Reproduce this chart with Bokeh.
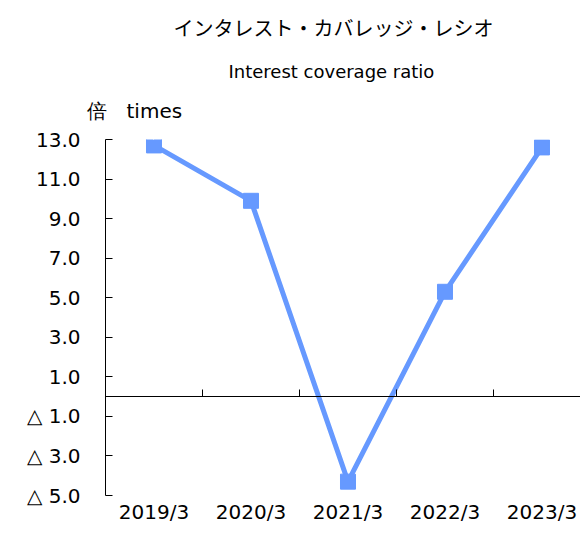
from bokeh.plotting import figure
from bokeh.models import (Range1d, FixedTicker, LinearAxis, Title,
                          CustomLabelingPolicy)
from bokeh.embed import file_html
from bokeh.resources import INLINE

# ---- data ----
categories = ["2019/3", "2020/3", "2021/3", "2022/3", "2023/3"]
ratio = [12.7, 9.9, -4.3, 5.3, 12.6]
ytick_values = [13, 11, 9, 7, 5, 3, 1, -1, -3, -5]
ytick_labels = ["13.0", "11.0", "9.0", "7.0", "5.0", "3.0", "1.0",
                "△ 1.0", "△ 3.0", "△ 5.0"]
title_ja = "インタレスト・カバレッジ・レシオ"
title_en = "Interest coverage ratio"
unit_label = "倍　times"

xs = list(range(len(categories)))
boundaries = [i + 0.5 for i in xs[:-1]]

LINE = "#6699ff"
FONT = "DejaVu Sans"

p = figure(width=580, height=526, output_backend="svg", toolbar_location=None,
           x_range=Range1d(-0.5, len(categories) - 0.603),
           y_range=Range1d(min(ytick_values), max(ytick_values)),
           min_border_left=105, min_border_right=0, min_border_top=139,
           min_border_bottom=29, title=None)
p.outline_line_color = None
p.xgrid.visible = False
p.ygrid.visible = False
p.background_fill_color = "white"
p.border_fill_color = "white"

# category label axis (bottom)
xa = p.xaxis[0]
xa.ticker = FixedTicker(ticks=xs)
xa.major_label_overrides = {x: c for x, c in zip(xs, categories)}
xa.axis_line_color = None
xa.major_tick_line_color = None
xa.minor_tick_line_color = None
xa.major_tick_in = 0
xa.major_tick_out = 0
xa.major_label_standoff = 4
xa.major_label_text_font = FONT
xa.major_label_text_font_size = "20px"
xa.major_label_text_color = "black"

# y axis
ya = p.yaxis[0]
ya.ticker = FixedTicker(ticks=ytick_values)
ya.major_label_overrides = {v: t for v, t in zip(ytick_values, ytick_labels)}
ya.axis_line_color = "black"
ya.major_tick_line_color = "black"
ya.minor_tick_line_color = None
ya.major_tick_in = 7
ya.major_tick_out = 0
ya.major_label_standoff = 25
ya.major_label_text_font = FONT
ya.major_label_text_font_size = "20px"
ya.major_label_text_color = "black"

NO_LABELS = "return []"

# zero line axis with category boundary ticks (no labels)
zero_axis = LinearAxis(fixed_location=0, ticker=FixedTicker(ticks=boundaries),
                       major_tick_in=7, major_tick_out=0,
                       minor_tick_line_color=None,
                       axis_line_color="black", major_tick_line_color="black",
                       major_label_policy=CustomLabelingPolicy(code=NO_LABELS),
                       major_label_text_font_size="1px", major_label_standoff=0)
p.add_layout(zero_axis, "below")

p.line(xs, ratio, line_color=LINE, line_width=5)
p.scatter(xs, ratio, marker="square", size=15, color=LINE)


def spacer(h):
    # blank axis (white tick on white) that only reserves header space
    return LinearAxis(ticker=FixedTicker(ticks=[xs[0]]), major_tick_out=h,
                      major_tick_in=0, minor_tick_out=0, minor_tick_in=0,
                      axis_line_color=None, major_tick_line_color="white",
                      minor_tick_line_color=None, major_label_standoff=0,
                      major_label_policy=CustomLabelingPolicy(code=NO_LABELS),
                      major_label_text_font_size="1px")


# header (first added = nearest frame)
p.add_layout(spacer(13), "above")
p.add_layout(Title(text=unit_label, align="left", offset=-19, text_font=FONT,
                   text_font_size="20px", text_font_style="normal",
                   text_color="black", standoff=0), "above")
p.add_layout(spacer(11), "above")
p.add_layout(Title(text=title_en, align="left", offset=123, text_font=FONT,
                   text_font_size="18px", text_font_style="normal",
                   text_color="black", standoff=0), "above")
p.add_layout(spacer(13), "above")
p.add_layout(Title(text=title_ja, align="left", offset=68,
                   text_font="Noto Sans CJK JP",
                   text_font_size="20px", text_font_style="normal",
                   text_color="black", standoff=0), "above")

open("out.html", "w").write(file_html(p, INLINE))
